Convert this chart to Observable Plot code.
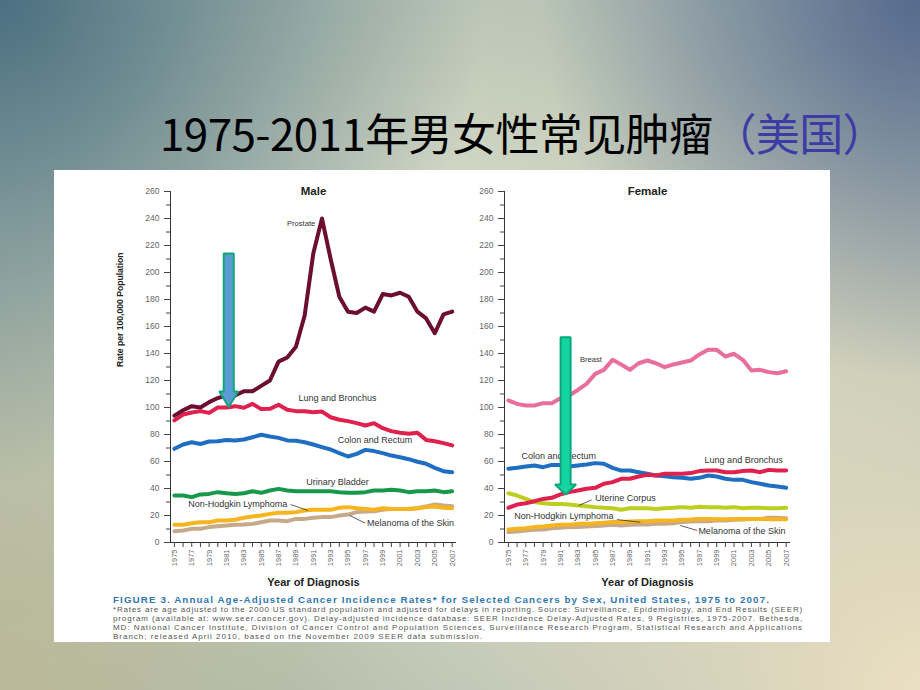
<!DOCTYPE html>
<html><head><meta charset="utf-8">
<script src="https://cdn.jsdelivr.net/npm/d3@7"></script>
<script src="https://cdn.jsdelivr.net/npm/@observablehq/plot@0.6"></script>
<style>
html,body{margin:0;padding:0;}
body{width:920px;height:690px;position:relative;overflow:hidden;
 background:
  radial-gradient(circle at 0% 0%, rgba(70,108,126,0.95) 0%, rgba(70,108,126,0) 42%),
  radial-gradient(circle at 100% 0%, rgba(82,102,140,0.95) 0%, rgba(82,102,140,0) 33%),
  radial-gradient(circle at 100% 100%, #ebdfc1 0%, rgba(235,223,193,0) 55%),
  radial-gradient(circle at 0% 100%, rgba(190,186,150,0.9) 0%, rgba(190,186,150,0) 40%),
  radial-gradient(ellipse at 45% 45%, #e1e3d2 0%, #c4ccba 45%, #9fb2ad 100%);
}
#title{position:absolute;left:160px;top:110px;font-family:"Noto Sans CJK SC";font-size:44px;line-height:1;white-space:nowrap;color:#000;}
#title span{color:#3c3ca4;}
#panel{position:absolute;left:54px;top:170px;width:776px;height:472px;background:#fff;}
#male{position:absolute;left:46px;top:10px;}
#female{position:absolute;left:386px;top:10px;}
#fig{position:absolute;left:59px;top:424px;font-family:"Liberation Sans",Arial,sans-serif;font-size:9.8px;font-weight:bold;line-height:12px;color:#2f78b2;white-space:nowrap;}
#note{position:absolute;left:59px;top:435px;font-family:"Liberation Sans",Arial,sans-serif;font-size:8px;line-height:9px;color:#555;}
#note span{display:inline-block;white-space:nowrap;}
</style></head>
<body>
<div id="title">1975-2011年男女性常见肿瘤<span>（美国）</span></div>
<div id="panel">
 <div id="male"></div>
 <div id="female"></div>
 <div id="fig"><span>FIGURE 3. Annual Age-Adjusted Cancer Incidence Rates* for Selected Cancers by Sex, United States, 1975 to 2007.</span></div>
 <div id="note"><span>*Rates are age adjusted to the 2000 US standard population and adjusted for delays in reporting. Source: Surveillance, Epidemiology, and End Results (SEER)</span><br><span>program (available at: www.seer.cancer.gov). Delay-adjusted incidence database: SEER Incidence Delay-Adjusted Rates, 9 Registries, 1975-2007. Bethesda,</span><br><span>MD: National Cancer Institute, Division of Cancer Control and Population Sciences, Surveillance Research Program, Statistical Research and Applications</span><br><span>Branch; released April 2010, based on the November 2009 SEER data submission.</span></div>
</div>
<script>
// ---------- data ----------
const years = [1975,1976,1977,1978,1979,1980,1981,1982,1983,1984,1985,1986,1987,1988,1989,1990,1991,1992,1993,1994,1995,1996,1997,1998,1999,2000,2001,2002,2003,2004,2005,2006,2007];
const xTickYears = [1975,1977,1979,1981,1983,1985,1987,1989,1991,1993,1995,1997,1999,2001,2003,2005,2007];
const yTicks = [0,20,40,60,80,100,120,140,160,180,200,220,240,260];
const yMinorTicks = [10,30,50,70,90,110,130,150,170,190,210,230,250];

const maleProstate = [94,98,101,100,104,107,109,109,112,112,116,120,134,137,145,168,214,240,210,182,171,170,174,171,184,183,185,182,171,166,155,169,171];
const maleLung = [90.4,94.8,96.3,97.3,96,100,100,101,99.8,102.7,98.8,99,102,98.3,97.3,97.3,96.5,97,92.8,90.9,89.9,88.4,86.7,88.4,84.7,82.5,81.3,80.5,81.3,76,75,73.6,71.9];
const maleColon = [69.4,72.6,74.3,73,74.8,75,76,75.6,76.3,78,79.8,78.5,77.5,75.6,75.3,74.3,72.6,70.6,68.9,66.2,63.7,65.7,68.6,67.7,66.2,64.4,63.2,61.7,59.8,58.3,55.3,52.8,52.1];
const maleBladder = [34.8,34.8,33.6,35.6,36,37.3,36.5,36,36.5,38,36.8,38.5,39.7,38.5,38,38,38,38,38,37.3,36.8,36.8,37.3,38.5,38.5,39,38.5,37.3,38,38,38.5,37.3,38];
const maleNHL = [13.1,13.1,14.3,15,15,16.3,16.3,16.8,18.3,19.3,20,21.2,22,22,22.5,23.7,24.2,24.2,24.2,25.7,26.2,25.4,24.9,24.2,25.4,24.9,24.9,24.9,25.4,26.2,26.7,25.7,25.4];
const maleMelanoma = [8.4,8.9,10.1,10.1,11.4,12.1,12.6,13.1,13.3,13.8,15,16.3,16.3,15.8,17.5,17.5,18.3,18.8,18.8,20,20.7,22.5,23,23.2,24.2,24.9,24.9,24.9,25.4,26.7,28.1,27.4,26.9];

const femaleBreast = [105.2,102.7,101.5,101.5,103.2,103.2,106.9,108.9,113,117.5,124.9,127.9,135.3,131.9,127.9,132.8,134.8,132.8,129.9,131.9,133.3,134.8,139.3,142.7,142.7,137.8,139.8,135.3,127.4,127.9,126.2,125.4,126.9];
const femaleColon = [54.6,55.3,56.3,57,55.8,57.5,57.5,56.3,57,57.8,58.8,58.3,55.3,53.3,53.3,52.1,50.9,49.6,49.1,48.4,47.9,47.2,47.9,49.6,48.9,47.2,46.4,46.4,44.7,43.5,42.2,41.5,40.5];
const femaleLung = [25.7,28.1,29.1,30.6,32.3,33.1,35.6,37.3,38.5,39.8,40.5,43.5,44.7,47.2,47.2,48.9,50.1,49.6,50.9,50.9,50.9,51.4,52.9,53.3,53.3,52.1,52.1,52.9,53.3,52.1,53.8,53.3,53.3];
const femaleUterine = [36.5,34.8,32.3,29.9,29.1,28.6,28.6,28.1,27.4,26.9,26.2,25.7,25.4,24.2,25.4,25.4,25.4,24.9,25.4,25.7,26.2,25.7,26.4,26.2,26.2,25.7,26.2,25.4,25.7,25.7,25.4,25.4,25.7];
const femaleNHL = [9.6,10.1,10.6,11.4,11.9,12.6,13.1,13.1,13.8,13.8,14.3,14.6,15.1,15.1,15.6,15.8,15.8,16.3,16.3,16.3,16.8,17,17.5,17.5,17.2,17.2,17.5,17.5,17.5,17.5,17.2,17.2,17.2];
const femaleMelanoma = [7.7,8.1,8.9,9.4,9.6,10.6,10.9,11.4,11.4,11.9,12.3,12.6,13.1,12.6,13.1,13.3,13.3,13.8,13.8,14.3,15.1,15.6,15.8,15.8,16.3,16.3,16.8,17,17.5,17.5,18.3,18.3,18];

const seriesNames = ["Prostate","Lung and Bronchus","Colon and Rectum","Urinary Bladder","Non-Hodgkin Lymphoma","Melanoma of the Skin","Breast","Uterine Corpus"];
const seriesColors = ["#6c0f2e","#e0204d","#1e6ec2","#17984a","#f6b41e","#c6a98a","#e86e9c","#bccf20"];

// annotations (chart coordinates: year, rate)
const maleLabels = [
  {text:"Prostate", year:1989.6, value:236, small:true},
  {text:"Lung and Bronchus", year:1993.8, value:106.7},
  {text:"Colon and Rectum", year:1998.1, value:75.5},
  {text:"Urinary Bladder", year:1993.8, value:44.4},
  {text:"Non-Hodgkin Lymphoma", year:1982.3, value:28.1},
  {text:"Melanoma of the Skin", year:2002.2, value:14}
];
const maleLeaders = [
  {x1:1988.4, y1:28.1, x2:1990.4, y2:23.7},
  {x1:1997.0, y1:14.3, x2:1995.2, y2:20}
];
const femaleLabels = [
  {text:"Breast", year:1984.5, value:135.5, small:true},
  {text:"Colon and Rectum", year:1980.8, value:63.7},
  {text:"Lung and Bronchus", year:2002.1, value:60.7},
  {text:"Uterine Corpus", year:1988.5, value:32.6},
  {text:"Non-Hodgkin Lymphoma", year:1981.4, value:19.3},
  {text:"Melanoma of the Skin", year:2001.9, value:8.1}
];
const femaleLeaders = [
  {x1:1984.6, y1:31.6, x2:1983.1, y2:27.4},
  {x1:1987.5, y1:17, x2:1990.2, y2:15},
  {x1:1996.75, y1:8.9, x2:1994.8, y2:12.6}
];
const maleArrow = {year:1981.26, top:214, base:111.9, tip:100.4, shaft:0.58, head:1.09};
const femaleArrow = {year:1981.59, top:152, base:43, tip:35.6, shaft:0.575, head:1.21};

// ---------- helpers ----------
function toRows(names, arrays) {
  const out = [];
  names.forEach((n, k) => years.forEach((yr, i) => out.push({series:n, year:yr, value:arrays[k][i]})));
  return out;
}
function arrowPoly(a) {
  const x = a.year;
  return [[x-a.shaft,a.top],[x+a.shaft,a.top],[x+a.shaft,a.base],[x+a.head,a.base],[x,a.tip],
          [x-a.head,a.base],[x-a.shaft,a.base],[x-a.shaft,a.top],[x+a.shaft,a.top]].map(([px,py])=>({px,py}));
}

function panel({title, rows, labels, leaders, arrow, arrowFill, arrowStroke, marginLeft, marginRight, yLabel}) {
  const font = "Liberation Sans, Arial, sans-serif";
  const marks = [
    Plot.ruleX([1974.55], {stroke:"#333", strokeWidth:1}),
    Plot.ruleY([0], {stroke:"#333", strokeWidth:1}),
    Plot.axisY(yMinorTicks, {tickSize:4, tickFormat:() => "", label:null, stroke:"#444"}),
    Plot.axisY(yTicks, {tickSize:6, tickPadding:5, fontSize:8.5, fill:"#666", stroke:"#444", label:null, tickFormat:d => String(d)}),
    Plot.axisX(years, {tickSize:5, tickFormat:() => "", label:null, stroke:"#444"}),
    Plot.axisX(xTickYears, {tickSize:0, tickRotate:-90, tickPadding:7, fontSize:7.5, fill:"#666", label:null, tickFormat:d => String(d)}),
    Plot.line(rows, {x:"year", y:"value", z:"series", stroke:"series", strokeWidth:4, curve:"linear"}),
    Plot.text(labels.filter(d => !d.small), {x:"year", y:"value", text:"text", fontSize:9, fill:"#333"}),
    Plot.text(labels.filter(d => d.small), {x:"year", y:"value", text:"text", fontSize:7.6, fill:"#333"}),
    Plot.link(leaders, {x1:"x1", y1:"y1", x2:"x2", y2:"y2", stroke:"#333", strokeWidth:0.8}),
    Plot.line(arrowPoly(arrow), {x:"px", y:"py", fill:arrowFill, stroke:arrowStroke, strokeWidth:2, strokeLinejoin:"miter", strokeLinecap:"butt"}),
    Plot.text([title], {frameAnchor:"top", lineAnchor:"middle", fontSize:11.5, fontWeight:"bold", fill:"#222"}),
    Plot.text(["Year of Diagnosis"], {frameAnchor:"bottom", dy:43, fontSize:11, fontWeight:"bold", fill:"#222"})
  ];
  if (yLabel) marks.push(Plot.text([yLabel], {frameAnchor:"left", rotate:-90, dx:-50, fontSize:8.6, fontWeight:"bold", fill:"#222"}));
  return Plot.plot({
    width:370, height:410,
    marginLeft, marginRight, marginTop:11, marginBottom:48,
    style:{fontFamily:font, background:"transparent", overflow:"visible"},
    x:{domain:[1974.55, 2007.5], axis:null},
    y:{domain:[0, 260], axis:null},
    color:{domain:seriesNames, range:seriesColors},
    marks
  });
}

document.getElementById("male").append(panel({
  title:"Male",
  rows: toRows(["Melanoma of the Skin","Non-Hodgkin Lymphoma","Urinary Bladder","Colon and Rectum","Lung and Bronchus","Prostate"],
               [maleMelanoma, maleNHL, maleBladder, maleColon, maleLung, maleProstate]),
  labels: maleLabels, leaders: maleLeaders, arrow: maleArrow,
  arrowFill:"#5b9bd5", arrowStroke:"#0fa775",
  marginLeft:70, marginRight:14, yLabel:"Rate per 100,000 Population"
}));
document.getElementById("female").append(panel({
  title:"Female",
  rows: toRows(["Melanoma of the Skin","Non-Hodgkin Lymphoma","Uterine Corpus","Colon and Rectum","Lung and Bronchus","Breast"],
               [femaleMelanoma, femaleNHL, femaleUterine, femaleColon, femaleLung, femaleBreast]),
  labels: femaleLabels, leaders: femaleLeaders, arrow: femaleArrow,
  arrowFill:"#14d4a0", arrowStroke:"#0aa67b",
  marginLeft:64, marginRight:20, yLabel:null
}));

// fit text widths
function fit(el, target) {
  const w = el.getBoundingClientRect().width;
  const n = el.textContent.length;
  el.style.letterSpacing = ((target - w) / n) + "px";
}
fit(document.getElementById("title"), 726);
fit(document.querySelector("#fig span"), 657);
document.querySelectorAll("#note span").forEach((l, i) => { if (i < 3) fit(l, 690); else fit(l, 370); });
</script>
</body></html>
